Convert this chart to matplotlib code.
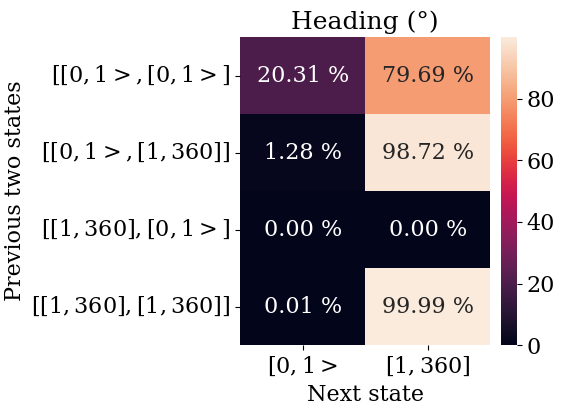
import matplotlib
matplotlib.use("Agg")
import matplotlib.pyplot as plt
import seaborn as sns
import numpy as np

row_labels = [r"$[[0,1>,[0,1>]$", r"$[[0,1>,[1,360]]$", r"$[[1,360],[0,1>]$", r"$[[1,360],[1,360]]$"]
col_labels = [r"$[0,1>$", r"$[1,360]$"]
values = np.array([[20.31, 79.69],
                   [1.28, 98.72],
                   [0.00, 0.00],
                   [0.01, 99.99]])

plt.rcParams['font.family'] = 'DejaVu Serif'
plt.rcParams['mathtext.fontset'] = 'dejavuserif'
plt.rcParams['font.size'] = 16

fig = plt.figure(figsize=(5.64, 4.11), dpi=100)
ax = fig.add_axes([0.426, 0.16, 0.443, 0.75])
cax = fig.add_axes([0.888, 0.16, 0.028, 0.75])
annot = np.array([[f"{v:.2f} %" for v in r] for r in values])
sns.heatmap(values, ax=ax, cbar_ax=cax, cmap="rocket", annot=annot, fmt="",
            annot_kws={"fontsize": 16}, xticklabels=col_labels, yticklabels=row_labels)
ax.set_title("Heading (°)", fontsize=18)
ax.set_xlabel("Next state", fontsize=16)
ax.set_ylabel("Previous two states", fontsize=16)
ax.tick_params(labelsize=16)
ax.set_yticklabels(row_labels, rotation=0)
cax.tick_params(labelsize=16)
fig.savefig("out.png", dpi=100)
